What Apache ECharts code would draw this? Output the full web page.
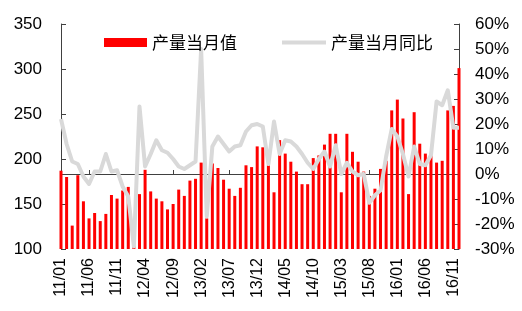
<!DOCTYPE html>
<html><head><meta charset="utf-8">
<script src="https://cdn.jsdelivr.net/npm/echarts@6/dist/echarts.min.js"></script>
<style>html,body{margin:0;padding:0;background:#fff}#c{width:522px;height:311px}</style>
</head><body><div id="c"></div>
<script>
const months = [
 '11/01','11/02','11/03','11/04','11/05','11/06','11/07','11/08','11/09','11/10','11/11','11/12',
 '12/01','12/02','12/03','12/04','12/05','12/06','12/07','12/08','12/09','12/10','12/11','12/12',
 '13/01','13/02','13/03','13/04','13/05','13/06','13/07','13/08','13/09','13/10','13/11','13/12',
 '14/01','14/02','14/03','14/04','14/05','14/06','14/07','14/08','14/09','14/10','14/11','14/12',
 '15/01','15/02','15/03','15/04','15/05','15/06','15/07','15/08','15/09','15/10','15/11','15/12',
 '16/01','16/02','16/03','16/04','16/05','16/06','16/07','16/08','16/09','16/10','16/11','16/12'
];
const monthlyOutput = [
 187,180,126,182,153,134,140,131,139,160,156,165,
 169,103,161,188,164,156,153,144,150,166,159,176,
 178,196,134,195,190,177,167,159,168,193,191,214,
 213,193,163,221,206,197,186,172,172,201,204,216,
 228,228,163,228,208,197,186,159,167,189,198,254,
 266,245,161,252,217,206,204,196,198,254,259,301
];
const yoyPct = [
 22,12,5,4,-1,-4,1,1,8,1,1.5,-5,
 -9,-29,27,3,8,13.5,9.5,8.5,6,3,2,3.5,
 5,50,-17,11,15,12,9,11,11.5,17,19.5,20,
 19,4,21,8,13.5,13,11,8,4.5,2,6,9,
 3,11.5,0,4.5,1,-0.5,0,-11.5,-8.5,-6.5,7,18,
 15,8,-1,11,4,3.5,7.5,29,27.5,33.5,18.5,18.5
];
const seriesNames = ['产量当月值','产量当月同比'];

const chart = echarts.init(document.getElementById('c'), null, {renderer:'canvas'});
const axisCol = '#404040';
const numFont = "'Liberation Sans', Arial, sans-serif";
const cjkFont = "'Noto Sans CJK SC', sans-serif";
chart.setOption({
  animation:false,
  backgroundColor:'#fff',
  grid:{left:61,right:63,top:24,bottom:62},
  legend:[
    {left:104,top:34,padding:0,itemWidth:43,itemHeight:9,data:[{name:seriesNames[0],icon:'rect'}],
     textStyle:{fontSize:17,color:'#000',fontFamily:cjkFont}},
    {left:282,top:34,padding:0,itemWidth:44,itemHeight:4,data:[{name:seriesNames[1],icon:'rect'}],
     textStyle:{fontSize:17,color:'#000',fontFamily:cjkFont}}
  ],
  xAxis:{type:'category',data:months,boundaryGap:false,
    axisLine:{lineStyle:{color:axisCol,width:1}},
    axisTick:{inside:true,length:4,interval:4,lineStyle:{color:axisCol}},
    axisLabel:{interval:4,rotate:90,margin:9,fontSize:16,color:'#000',fontFamily:numFont},
    splitLine:{show:false}},
  yAxis:[
    {type:'value',min:100,max:350,interval:50,position:'left',
     axisLine:{show:true,lineStyle:{color:axisCol,width:1}},
     axisTick:{show:true,inside:true,length:5,lineStyle:{color:axisCol}},
     axisLabel:{margin:19,fontSize:17,color:'#000',fontFamily:numFont},
     splitLine:{show:false}},
    {type:'value',min:-30,max:60,interval:10,position:'right',
     axisLine:{show:true,lineStyle:{color:axisCol,width:1}},
     axisTick:{show:true,inside:true,length:5,lineStyle:{color:axisCol}},
     axisLabel:{margin:16,fontSize:17,color:'#000',fontFamily:numFont,formatter:'{value}%'},
     splitLine:{show:false}}
  ],
  series:[
    {name:seriesNames[0],type:'bar',data:monthlyOutput,yAxisIndex:0,barWidth:3,
     itemStyle:{color:'#FF0000'}},
    {name:seriesNames[1],type:'line',data:yoyPct,yAxisIndex:1,symbol:'none',
     lineStyle:{color:'#D9D9D9',width:4,join:'round'},itemStyle:{color:'#D9D9D9'}}
  ]
});
</script></body></html>
